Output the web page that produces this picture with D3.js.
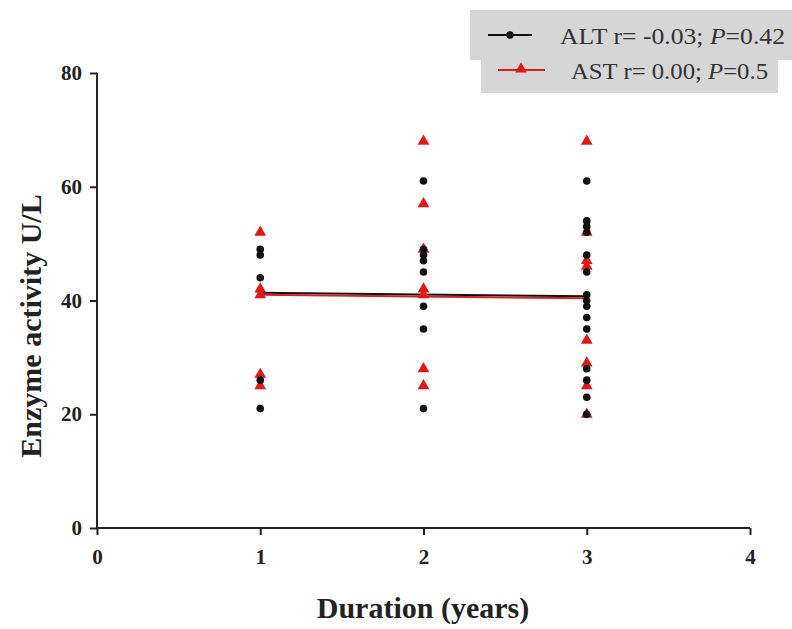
<!DOCTYPE html>
<html><head><meta charset="utf-8">
<script src="https://cdn.jsdelivr.net/npm/d3@7"></script>
<style>body{margin:0;background:#fff}svg{display:block}</style>
</head><body>
<script>
const xTicks = [0, 1, 2, 3, 4];
const yTicks = [0, 20, 40, 60, 80];
const altX = [1,1,1,1,1, 2,2,2,2,2,2,2,2, 3,3,3,3,3,3,3,3,3,3,3,3,3,3,3];
const altY = [49,48,44,26,21, 61,49,48,47,45,39,35,21, 61,54,53,52,48,45,41,40,39,37,35,28,26,23,20];
const astX = [1,1,1,1,1, 2,2,2,2,2,2,2, 3,3,3,3,3,3,3,3];
const astY = [52,42,41,27,25, 68,57,49,42,41,28,25, 68,52,47,46,33,29,25,20];
const altFit = [[1, 41.35], [3, 40.75]];
const astFit = [[1, 41.0], [3, 40.4]];
const legendLabels = ["ALT", "AST"];
const legendStats = [["r= -0.03; ", "P", "=0.42"], ["r= 0.00; ", "P", "=0.5"]];

const W = 792, H = 629;
const svg = d3.select("body").append("svg").attr("width", W).attr("height", H);
const x = d3.scaleLinear().domain([0, 4]).range([97, 750]);
const y = d3.scaleLinear().domain([0, 80]).range([528, 73]);
const font = "'Liberation Serif','Times New Roman',serif";

// axes
const gx = svg.append("g").attr("transform", "translate(0,528)")
  .call(d3.axisBottom(x).tickValues(xTicks).tickSize(7).tickPadding(14).tickFormat(d3.format("d")));
const gy = svg.append("g").attr("transform", "translate(97,0)")
  .call(d3.axisLeft(y).tickValues(yTicks).tickSize(7).tickPadding(8).tickFormat(d3.format("d")));
[gx, gy].forEach(g => {
  g.select(".domain").attr("stroke", "#222").attr("stroke-width", 2);
  g.selectAll(".tick line").attr("stroke", "#222").attr("stroke-width", 2);
  g.selectAll(".tick text").attr("fill", "#222").style("font-family", font)
    .style("font-weight", "bold").style("font-size", "21px");
});
gx.select(".domain").attr("d", "M97,0H750");
gy.select(".domain").attr("d", "M0,73V528");

// axis titles
svg.append("text").attr("x", 423).attr("y", 618).attr("text-anchor", "middle")
  .style("font-family", font).style("font-weight", "bold").style("font-size", "30px").attr("fill", "#222")
  .text("Duration (years)");
svg.append("text").attr("transform", "translate(41,326) rotate(-90)").attr("text-anchor", "middle")
  .style("font-family", font).style("font-weight", "bold").style("font-size", "30px").attr("fill", "#222")
  .text("Enzyme activity U/L");

// regression lines
const line = d3.line().x(d => x(d[0])).y(d => y(d[1]));
svg.append("path").attr("d", line(altFit)).attr("stroke", "#111").attr("stroke-width", 2).attr("fill", "none");
svg.append("path").attr("d", line(astFit)).attr("stroke", "#d42020").attr("stroke-width", 2).attr("fill", "none");

// points
const tri = d3.symbol().type(d3.symbolTriangle).size(60);
svg.append("g").selectAll("path").data(astY).join("path")
  .attr("d", tri).attr("fill", "#e01818")
  .attr("transform", (d, i) => `translate(${x(astX[i])},${y(d)})`);
svg.append("g").selectAll("circle").data(altY).join("circle")
  .attr("cx", (d, i) => x(altX[i])).attr("cy", d => y(d)).attr("r", 3.8).attr("fill", "#111");

// legend
const lg = svg.append("g");
lg.append("rect").attr("x", 470).attr("y", 10).attr("width", 322).attr("height", 50).attr("fill", "#d6d6d6");
lg.append("rect").attr("x", 481).attr("y", 58).attr("width", 297).attr("height", 35).attr("fill", "#d6d6d6");
lg.append("line").attr("x1", 488).attr("x2", 532).attr("y1", 35).attr("y2", 35).attr("stroke", "#111").attr("stroke-width", 2);
lg.append("circle").attr("cx", 510).attr("cy", 35).attr("r", 3.8).attr("fill", "#111");
lg.append("line").attr("x1", 498).attr("x2", 545).attr("y1", 70).attr("y2", 70).attr("stroke", "#d42020").attr("stroke-width", 2);
lg.append("path").attr("d", tri).attr("fill", "#e01818").attr("transform", "translate(521,69)");
const lx = [560, 571], ly = [44, 79], lw = [225, 197];
legendLabels.forEach((lab, i) => {
  const t = lg.append("text").attr("x", lx[i]).attr("y", ly[i]).attr("fill", "#333")
    .attr("textLength", lw[i]).attr("lengthAdjust", "spacingAndGlyphs")
    .style("font-family", font).style("font-size", "23px");
  t.append("tspan").text(lab + " " + legendStats[i][0]);
  t.append("tspan").style("font-style", "italic").text(legendStats[i][1]);
  t.append("tspan").text(legendStats[i][2]);
});
</script>
</body></html>
